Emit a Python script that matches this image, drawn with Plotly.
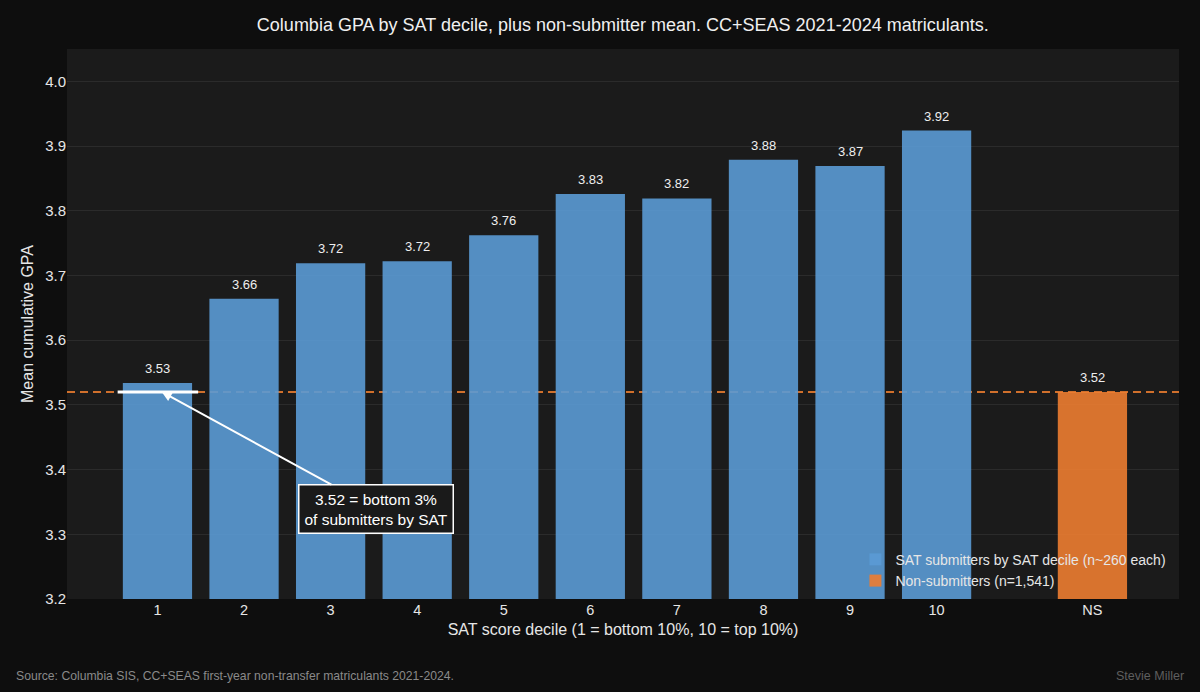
import plotly.graph_objects as go

# mean cumulative GPA by SAT decile, plus non-submitters
deciles = ["1", "2", "3", "4", "5", "6", "7", "8", "9", "10"]
decile_pos = [0, 1, 2, 3, 4, 5, 6, 7, 8, 9]
decile_gpa = [3.534, 3.664, 3.719, 3.722, 3.762, 3.826, 3.819, 3.879, 3.869, 3.924]

ns_label = "NS"
ns_pos = 10.8
ns_gpa = 3.520

tick_pos = decile_pos + [ns_pos]
tick_text = deciles + [ns_label]

blue = "#5B9BD5"
orange = "#ED7D31"
font = "Liberation Sans, Arial, sans-serif"

fig = go.Figure()

fig.add_trace(go.Bar(
    x=decile_pos, y=decile_gpa, width=0.8,
    marker=dict(color=blue, line=dict(width=0)), opacity=0.9,
    name="SAT submitters by SAT decile (n~260 each)",
    hoverinfo="x+y",
))
fig.add_trace(go.Bar(
    x=[ns_pos], y=[ns_gpa], width=0.8,
    marker=dict(color=orange, line=dict(width=0)), opacity=0.9,
    name="Non-submitters (n=1,541)",
))

# value labels over the bars
for px_, v in zip(tick_pos, decile_gpa + [ns_gpa]):
    fig.add_annotation(x=px_, y=v, text=f"{v:.2f}", showarrow=False,
                       yanchor="bottom", yshift=5,
                       font=dict(size=13, color="#eeeeee", family=font))

# non-submitter mean reference line
fig.add_shape(type="line", xref="paper", x0=0, x1=1, y0=ns_gpa, y1=ns_gpa,
              line=dict(color="#d0702c", width=2, dash="8px,5px"), layer="between")

# white marker at 3.52 on decile 1
fig.add_shape(type="line", x0=-0.46, x1=0.47, y0=ns_gpa, y1=ns_gpa,
              line=dict(color="white", width=3), layer="above")

fig.add_annotation(
    x=0.05, y=ns_gpa, ax=214, ay=117,
    text="3.52 = bottom 3%<br>of submitters by SAT",
    showarrow=True, arrowhead=2, arrowsize=1, arrowwidth=2, arrowcolor="white",
    font=dict(size=15.5, color="white", family=font),
    bgcolor="#1a1a1a", bordercolor="white", borderwidth=1.5, borderpad=5,
)

# source + credit
fig.add_annotation(xref="paper", yref="paper", x=-0.0477, y=-0.1407, xanchor="left", yanchor="middle",
                   text="Source: Columbia SIS, CC+SEAS first-year non-transfer matriculants 2021-2024.",
                   showarrow=False, font=dict(size=12.2, color="#8a8a8a", family=font))
fig.add_annotation(xref="paper", yref="paper", x=1.0063, y=-0.1407, xanchor="right", yanchor="middle",
                   text="Stevie Miller", showarrow=False,
                   font=dict(size=12.5, color="#5e5e5e", family=font))

fig.update_layout(
    width=1200, height=692,
    margin=dict(l=67, r=21, t=49, b=93),
    paper_bgcolor="#0e0e0e", plot_bgcolor="#1b1b1b",
    font=dict(family=font, color="#e6e6e6", size=14),
    title=dict(text="Columbia GPA by SAT decile, plus non-submitter mean. CC+SEAS 2021-2024 matriculants.",
               x=0.519, xanchor="center", y=0.965, yanchor="middle",
               font=dict(size=18, color="#f0f0f0")),
    showlegend=True,
    legend=dict(x=0.709, y=0.004, xanchor="left", yanchor="bottom",
                bgcolor="rgba(0,0,0,0)", font=dict(size=14, color="#e6e6e6"),
                tracegroupgap=0, itemsizing="constant"),
    bargap=0.2,
)

fig.update_xaxes(range=[-1.045, 11.8], tickvals=tick_pos, ticktext=tick_text,
                 showgrid=False, zeroline=False, showline=False, ticks="",
                 tickfont=dict(size=14.5, color="#e6e6e6"),
                 title=dict(text="SAT score decile (1 = bottom 10%, 10 = top 10%)",
                            font=dict(size=16, color="#e6e6e6"), standoff=7))
fig.update_yaxes(range=[3.2, 4.05], dtick=0.1, tickformat=".1f",
                 showgrid=True, gridcolor="#2b2b2b", gridwidth=1,
                 zeroline=False, showline=False, ticks="",
                 tickfont=dict(size=15, color="#e6e6e6"),
                 title=dict(text="Mean cumulative GPA", font=dict(size=16, color="#e6e6e6"),
                            standoff=7))

# page has a default body margin; drop it so the figure sits at the corner
fig.write_html("out.html", config={"displayModeBar": False},
               post_script="document.body.style.margin='0';")
